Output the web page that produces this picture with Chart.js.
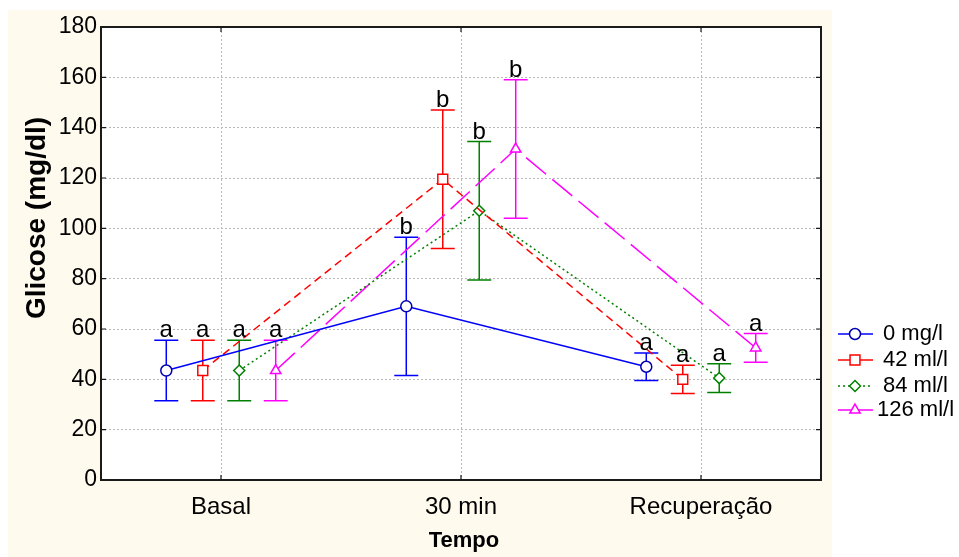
<!DOCTYPE html>
<html>
<head>
<meta charset="utf-8">
<script src="https://cdn.jsdelivr.net/npm/chart.js@4.4.1/dist/chart.umd.min.js"></script>
<style>
  html, body { margin: 0; padding: 0; background: #fff; }
  canvas { display: block; }
</style>
</head>
<body>
<canvas id="chart" width="959" height="557"></canvas>
<script>
// valores (média ± desvio)
const categories = ["Basal", "30 min", "Recuperação"];
const seriesNames = ["0 mg/l", "42 ml/l", "84 ml/l", "126 ml/l"];

const mean0 = [43.5, 69, 45];
const sd0 = [12, 27.5, 5.5];
const mean42 = [43.5, 119.5, 40];
const sd42 = [12, 27.5, 5.6];
const mean84 = [43.5, 107, 40.5];
const sd84 = [12, 27.5, 5.7];
const mean126 = [43.5, 131.5, 52.5];
const sd126 = [12, 27.5, 5.7];

const letters0 = ["a", "b", "a"];
const letters42 = ["a", "b", "a"];
const letters84 = ["a", "b", "a"];
const letters126 = ["a", "b", "a"];

const yTicks = [0, 20, 40, 60, 80, 100, 120, 140, 160, 180];

const FONT = '"Liberation Sans", Arial, sans-serif';

const styles = [
  { color: "#0000ff", marker: "#0000b0", dash: [], point: "circle", radius: 5.5 },
  { color: "#ff0000", marker: "#ff0000", dash: [8, 5], point: "rect", radius: 7 },
  { color: "#008000", marker: "#008000", dash: [2, 3], point: "rectRot", radius: 5.5 },
  { color: "#ff00ff", marker: "#ff00ff", dash: [26, 8], point: "triangle", radius: 6 }
];

const means = [mean0, mean42, mean84, mean126];
const sds = [sd0, sd42, sd84, sd126];
const letters = [letters0, letters42, letters84, letters126];

// deslocamento horizontal de cada série dentro da categoria
const groupStep = 0.152;

const datasets = seriesNames.map((name, s) => ({
  label: name,
  data: means[s].map((m, i) => ({ x: i + (s - 1.5) * groupStep, y: m, sd: sds[s][i], letter: letters[s][i] })),
  showLine: true,
  borderColor: styles[s].color,
  borderWidth: 1.5,
  borderDash: styles[s].dash,
  pointStyle: styles[s].point,
  pointRadius: styles[s].radius,
  pointBorderColor: styles[s].marker,
  pointBorderWidth: 1.5,
  pointBackgroundColor: "#ffffff",
  tension: 0
}));

const backgroundPlugin = {
  id: "background",
  beforeDraw(chart) {
    const { ctx, chartArea } = chart;
    ctx.save();
    ctx.fillStyle = "#fefaee";
    ctx.fillRect(8, 10, 824, 547);
    ctx.fillStyle = "#ffffff";
    ctx.fillRect(chartArea.left, chartArea.top, chartArea.right - chartArea.left, chartArea.bottom - chartArea.top);
    ctx.restore();
  }
};

const errorBarPlugin = {
  id: "errorBars",
  beforeDatasetsDraw(chart) {
    const { ctx, scales } = chart;
    ctx.save();
    ctx.lineWidth = 1.5;
    chart.data.datasets.forEach((ds, s) => {
      ctx.strokeStyle = styles[s].color;
      ds.data.forEach(p => {
        const x = scales.x.getPixelForValue(p.x);
        const yt = scales.y.getPixelForValue(p.y + p.sd);
        const yb = scales.y.getPixelForValue(p.y - p.sd);
        ctx.beginPath();
        ctx.moveTo(x, yt); ctx.lineTo(x, yb);
        ctx.moveTo(x - 12, yt); ctx.lineTo(x + 12, yt);
        ctx.moveTo(x - 12, yb); ctx.lineTo(x + 12, yb);
        ctx.stroke();
      });
    });
    ctx.restore();
  },
  afterDatasetsDraw(chart) {
    const { ctx, scales, chartArea } = chart;
    ctx.save();
    // letras de significância
    ctx.fillStyle = "#000";
    ctx.font = "24px " + FONT;
    ctx.textAlign = "center";
    ctx.textBaseline = "alphabetic";
    chart.data.datasets.forEach(ds => {
      ds.data.forEach(p => {
        const x = scales.x.getPixelForValue(p.x);
        const yt = scales.y.getPixelForValue(p.y + p.sd);
        ctx.fillText(p.letter, x, yt - 3);
      });
    });
    // moldura e marcas internas
    ctx.strokeStyle = "#1a1a1a";
    ctx.lineWidth = 2;
    ctx.strokeRect(chartArea.left, chartArea.top, chartArea.right - chartArea.left, chartArea.bottom - chartArea.top);
    ctx.lineWidth = 1.2;
    ctx.beginPath();
    yTicks.forEach(v => {
      const y = scales.y.getPixelForValue(v);
      ctx.moveTo(chartArea.left, y); ctx.lineTo(chartArea.left + 5, y);
      ctx.moveTo(chartArea.right, y); ctx.lineTo(chartArea.right - 5, y);
    });
    categories.forEach((c, i) => {
      const x = scales.x.getPixelForValue(i);
      ctx.moveTo(x, chartArea.top); ctx.lineTo(x, chartArea.top + 5);
      ctx.moveTo(x, chartArea.bottom); ctx.lineTo(x, chartArea.bottom - 5);
    });
    ctx.stroke();
    ctx.restore();
  }
};

const legendPlugin = {
  id: "customLegend",
  afterDraw(chart) {
    const { ctx } = chart;
    ctx.save();
    // títulos dos eixos
    ctx.fillStyle = "#000";
    ctx.textAlign = "center";
    ctx.textBaseline = "middle";
    ctx.font = "bold 22px " + FONT;
    ctx.fillText("Tempo", 464, 541);
    ctx.font = "bold 28px " + FONT;
    ctx.translate(37, 218);
    ctx.rotate(-Math.PI / 2);
    ctx.fillText("Glicose (mg/dl)", 0, 0);
    ctx.restore();

    ctx.save();
    ctx.font = "22px " + FONT;
    ctx.textBaseline = "middle";
    ctx.textAlign = "left";
    const rows = [334, 360, 386, 410];
    seriesNames.forEach((name, s) => {
      const y = rows[s];
      ctx.strokeStyle = styles[s].color;
      ctx.lineWidth = 1.5;
      ctx.setLineDash(s === 2 ? [2, 3] : []);
      ctx.beginPath();
      ctx.moveTo(838, y); ctx.lineTo(873, y);
      ctx.stroke();
      ctx.setLineDash([]);
      ctx.fillStyle = "#ffffff";
      ctx.strokeStyle = styles[s].marker;
      Chart.helpers.drawPoint(ctx, { pointStyle: styles[s].point, radius: styles[s].radius, borderWidth: 1.5 }, 855, y);
      ctx.fillStyle = "#000";
      ctx.fillText(name, s === 3 ? 877 : 883, y);
    });
    ctx.restore();
  }
};

new Chart(document.getElementById("chart"), {
  type: "scatter",
  data: { datasets },
  options: {
    responsive: false,
    animation: false,
    devicePixelRatio: 1,
    layout: { padding: { left: 0, top: 27, right: 138, bottom: 0 } },
    plugins: { legend: { display: false }, tooltip: { enabled: false } },
    scales: {
      x: {
        type: "linear",
        min: -0.5,
        max: 2.5,
        afterFit(scale) { scale.height = 77; },
        afterBuildTicks(scale) { scale.ticks = categories.map((c, i) => ({ value: i })); },
        ticks: {
          color: "#000",
          font: { family: FONT, size: 24 },
          padding: 13,
          maxRotation: 0,
          callback: v => categories[v]
        },
        grid: { color: "#b8b8b8", lineWidth: 1, drawTicks: false },
        border: { display: false, dash: [2, 2] }
      },
      y: {
        min: 0,
        max: 180,
        afterFit(scale) { scale.width = 101; },
        afterBuildTicks(scale) { scale.ticks = yTicks.map(v => ({ value: v })); },
        ticks: {
          color: "#000",
          font: { family: FONT, size: 23 },
          padding: 4
        },
        grid: { color: "#b8b8b8", lineWidth: 1, drawTicks: false },
        border: { display: false, dash: [2, 2] }
      }
    }
  },
  plugins: [backgroundPlugin, errorBarPlugin, legendPlugin]
});
</script>
</body>
</html>
